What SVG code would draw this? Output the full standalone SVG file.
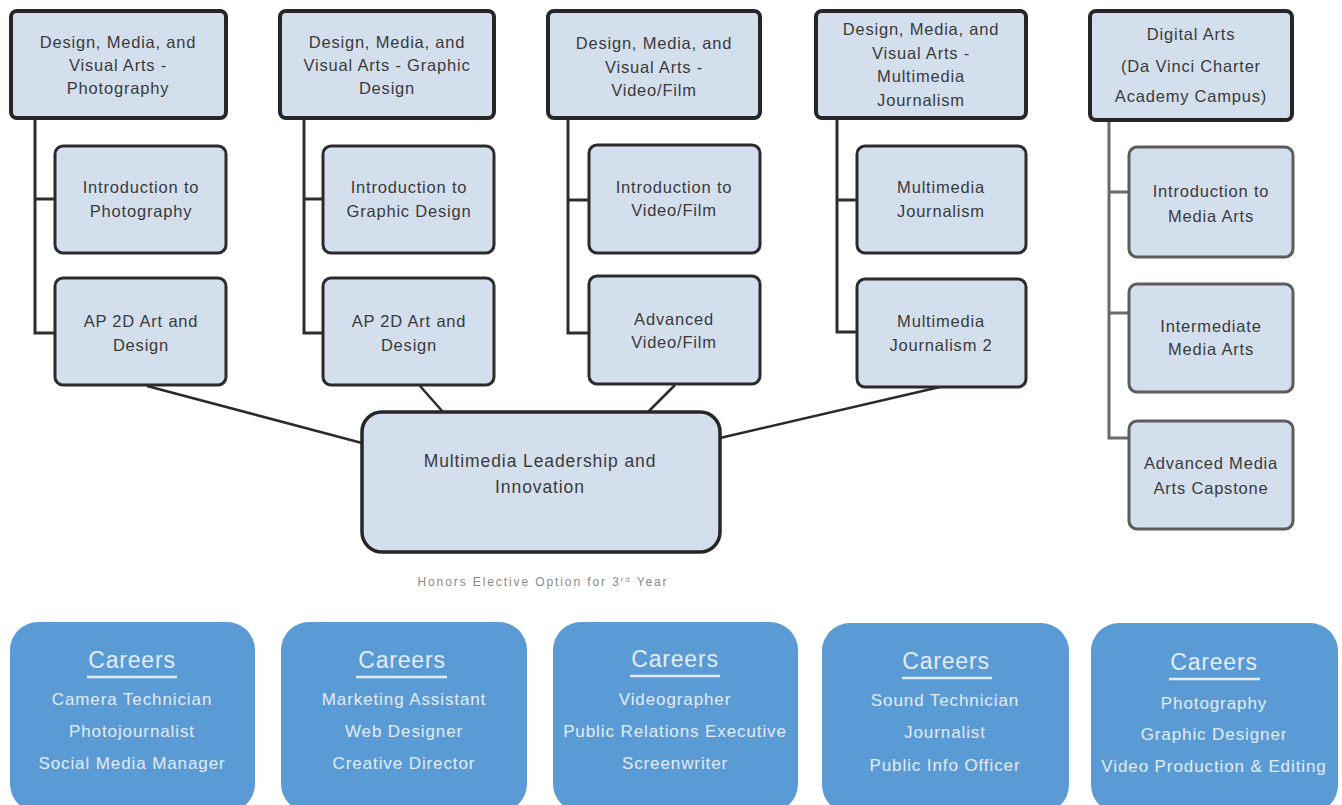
<svg xmlns="http://www.w3.org/2000/svg" width="1342" height="805" viewBox="0 0 1342 805">
  <style>
    .hdr { fill: #d4dfee; stroke: #262626; stroke-width: 4; }
    .crs { fill: #d4dfee; stroke: #2b2b2b; stroke-width: 3; }
    .crs-g { fill: #d4dfee; stroke: #5c5c5c; stroke-width: 3; }
    .hub { fill: #d4dfee; stroke: #262626; stroke-width: 3.5; }
    .t { font-family: "Liberation Sans", Arial, sans-serif; font-size: 16.5px; fill: #3a3a3a; text-anchor: middle; letter-spacing: 0.8px; }
    .big { font-size: 17.5px; letter-spacing: 0.9px; }
    .tree { fill: none; stroke: #2e2e2e; stroke-width: 3; }
    .tree-g { fill: none; stroke: #6a6a6a; stroke-width: 3; }
    .link { fill: none; stroke: #2a2a2a; stroke-width: 2.5; }
    .note { font-family: "Liberation Sans", Arial, sans-serif; font-size: 12px; fill: #8a8a8a; text-anchor: middle; letter-spacing: 1.9px; }
    .card { fill: #5b9bd5; }
    .ct { font-family: "Liberation Sans", Arial, sans-serif; fill: #e2ecf7; text-anchor: middle; }
    .ch { font-size: 23px; letter-spacing: 0.8px; }
    .ci { font-size: 17px; letter-spacing: 0.9px; }
    .ul { stroke: #e2ecf7; stroke-width: 2.5; }
  </style>

  <!-- tree lines and links to the shared elective -->
  <g id="connectors">
    <path class="tree" d="M35 118 V333 H55 M35 199 H55"/>
    <path class="tree" d="M304 118 V333 H323 M304 199 H323"/>
    <path class="tree" d="M568 118 V333 H589 M568 200 H589"/>
    <path class="tree" d="M837 118 V332 H857 M837 200 H857"/>
    <path class="tree-g" d="M1109 120 V438 H1129 M1109 192 H1129 M1109 313 H1129"/>
    <line class="link" x1="147" y1="386" x2="362" y2="443"/>
    <line class="link" x1="420" y1="386" x2="443" y2="412"/>
    <line class="link" x1="675" y1="385" x2="648" y2="412"/>
    <line class="link" x1="940" y1="387" x2="720" y2="438"/>
  </g>

  <!-- pathway 1: photography -->
  <g id="photo-pathway">
    <rect class="hdr" x="11" y="11" width="215" height="107" rx="6"/>
    <text class="t" x="118" y="48">Design, Media, and</text>
    <text class="t" x="118" y="71">Visual Arts -</text>
    <text class="t" x="118" y="94">Photography</text>
  </g>
  <g id="photo-intro">
    <rect class="crs" x="55" y="146" width="171" height="107" rx="8"/>
    <text class="t" x="141" y="193">Introduction to</text>
    <text class="t" x="141" y="217">Photography</text>
  </g>
  <g id="photo-ap">
    <rect class="crs" x="55" y="278" width="171" height="107" rx="8"/>
    <text class="t" x="141" y="327">AP 2D Art and</text>
    <text class="t" x="141" y="351">Design</text>
  </g>

  <!-- pathway 2: graphic design -->
  <g id="graphic-pathway">
    <rect class="hdr" x="280" y="11" width="214" height="107" rx="6"/>
    <text class="t" x="387" y="48">Design, Media, and</text>
    <text class="t" x="387" y="71">Visual Arts - Graphic</text>
    <text class="t" x="387" y="94">Design</text>
  </g>
  <g id="graphic-intro">
    <rect class="crs" x="323" y="146" width="171" height="107" rx="8"/>
    <text class="t" x="409" y="193">Introduction to</text>
    <text class="t" x="409" y="217">Graphic Design</text>
  </g>
  <g id="graphic-ap">
    <rect class="crs" x="323" y="278" width="171" height="107" rx="8"/>
    <text class="t" x="409" y="327">AP 2D Art and</text>
    <text class="t" x="409" y="351">Design</text>
  </g>

  <!-- pathway 3: video/film -->
  <g id="video-pathway">
    <rect class="hdr" x="548" y="11" width="212" height="107" rx="6"/>
    <text class="t" x="654" y="49">Design, Media, and</text>
    <text class="t" x="654" y="73">Visual Arts -</text>
    <text class="t" x="654" y="96">Video/Film</text>
  </g>
  <g id="video-intro">
    <rect class="crs" x="589" y="145" width="171" height="108" rx="8"/>
    <text class="t" x="674" y="193">Introduction to</text>
    <text class="t" x="674" y="216">Video/Film</text>
  </g>
  <g id="video-adv">
    <rect class="crs" x="589" y="276" width="171" height="108" rx="8"/>
    <text class="t" x="674" y="325">Advanced</text>
    <text class="t" x="674" y="348">Video/Film</text>
  </g>

  <!-- pathway 4: multimedia journalism -->
  <g id="journalism-pathway">
    <rect class="hdr" x="816" y="11" width="210" height="107" rx="6"/>
    <text class="t" x="921" y="35">Design, Media, and</text>
    <text class="t" x="921" y="59">Visual Arts -</text>
    <text class="t" x="921" y="82">Multimedia</text>
    <text class="t" x="921" y="106">Journalism</text>
  </g>
  <g id="journalism-1">
    <rect class="crs" x="857" y="146" width="169" height="107" rx="8"/>
    <text class="t" x="941" y="193">Multimedia</text>
    <text class="t" x="941" y="217">Journalism</text>
  </g>
  <g id="journalism-2">
    <rect class="crs" x="857" y="279" width="169" height="108" rx="8"/>
    <text class="t" x="941" y="327">Multimedia</text>
    <text class="t" x="941" y="351">Journalism 2</text>
  </g>

  <!-- pathway 5: digital arts -->
  <g id="digital-pathway">
    <rect class="hdr" x="1090" y="11" width="202" height="109" rx="6"/>
    <text class="t" x="1191" y="40">Digital Arts</text>
    <text class="t" x="1191" y="72">(Da Vinci Charter</text>
    <text class="t" x="1191" y="102">Academy Campus)</text>
  </g>
  <g id="digital-intro">
    <rect class="crs-g" x="1129" y="147" width="164" height="110" rx="8"/>
    <text class="t" x="1211" y="197">Introduction to</text>
    <text class="t" x="1211" y="222">Media Arts</text>
  </g>
  <g id="digital-mid">
    <rect class="crs-g" x="1129" y="284" width="164" height="108" rx="8"/>
    <text class="t" x="1211" y="332">Intermediate</text>
    <text class="t" x="1211" y="355">Media Arts</text>
  </g>
  <g id="digital-adv">
    <rect class="crs-g" x="1129" y="421" width="164" height="108" rx="8"/>
    <text class="t" x="1211" y="469">Advanced Media</text>
    <text class="t" x="1211" y="494">Arts Capstone</text>
  </g>

  <!-- shared honors elective -->
  <g id="leadership">
    <rect class="hub" x="362" y="412" width="358" height="140" rx="20"/>
    <text class="t big" x="540" y="467">Multimedia Leadership and</text>
    <text class="t big" x="540" y="493">Innovation</text>
  </g>
  <g id="honors-note">
    <text class="note" x="543" y="586">Honors Elective Option for 3<tspan font-size="8" dy="-4">rd</tspan><tspan dy="4"> Year</tspan></text>
  </g>

  <!-- career cards -->
  <g id="careers-photo">
    <rect class="card" x="10" y="622" width="245" height="190" rx="28"/>
    <text class="ct ch" x="132" y="668">Careers</text>
    <line class="ul" x1="87" y1="677" x2="177" y2="677"/>
    <text class="ct ci" x="132" y="705">Camera Technician</text>
    <text class="ct ci" x="132" y="737">Photojournalist</text>
    <text class="ct ci" x="132" y="769">Social Media Manager</text>
  </g>
  <g id="careers-graphic">
    <rect class="card" x="281" y="622" width="246" height="190" rx="28"/>
    <text class="ct ch" x="402" y="668">Careers</text>
    <line class="ul" x1="356" y1="677" x2="447" y2="677"/>
    <text class="ct ci" x="404" y="705">Marketing Assistant</text>
    <text class="ct ci" x="404" y="737">Web Designer</text>
    <text class="ct ci" x="404" y="769">Creative Director</text>
  </g>
  <g id="careers-video">
    <rect class="card" x="553" y="622" width="245" height="190" rx="28"/>
    <text class="ct ch" x="675" y="667">Careers</text>
    <line class="ul" x1="630" y1="676" x2="720" y2="676"/>
    <text class="ct ci" x="675" y="705">Videographer</text>
    <text class="ct ci" x="675" y="737">Public Relations Executive</text>
    <text class="ct ci" x="675" y="769">Screenwriter</text>
  </g>
  <g id="careers-journalism">
    <rect class="card" x="822" y="623" width="247" height="190" rx="28"/>
    <text class="ct ch" x="946" y="669">Careers</text>
    <line class="ul" x1="902" y1="678" x2="992" y2="678"/>
    <text class="ct ci" x="945" y="706">Sound Technician</text>
    <text class="ct ci" x="945" y="738">Journalist</text>
    <text class="ct ci" x="945" y="771">Public Info Officer</text>
  </g>
  <g id="careers-digital">
    <rect class="card" x="1091" y="623" width="247" height="190" rx="28"/>
    <text class="ct ch" x="1214" y="670">Careers</text>
    <line class="ul" x1="1169" y1="679" x2="1260" y2="679"/>
    <text class="ct ci" x="1214" y="709">Photography</text>
    <text class="ct ci" x="1214" y="740">Graphic Designer</text>
    <text class="ct ci" x="1214" y="772">Video Production &amp; Editing</text>
  </g>
</svg>
